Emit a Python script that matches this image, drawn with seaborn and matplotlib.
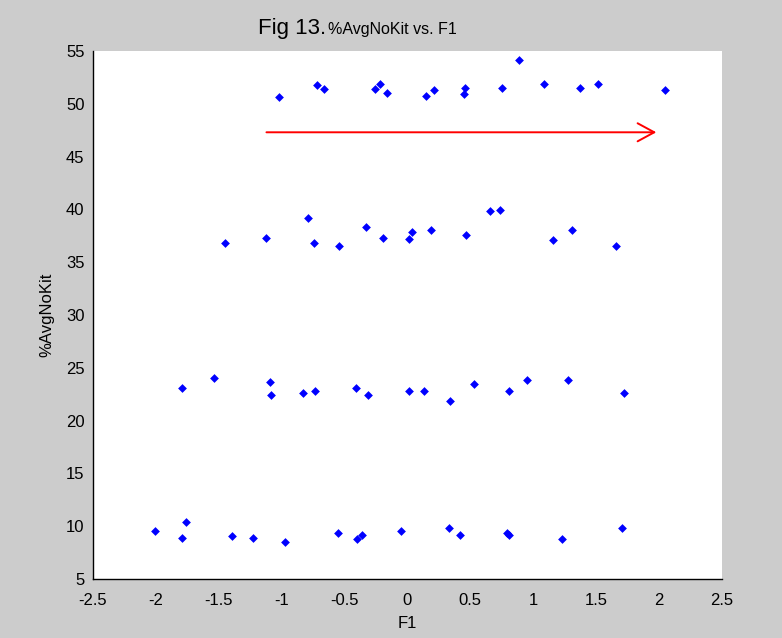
import matplotlib
matplotlib.use("Agg")
import matplotlib.pyplot as plt
import seaborn as sns
import pandas as pd

# F1 scores and %AvgNoKit, one list per band
f1_top = [-1.02, -0.72, -0.66, -0.26, -0.22, -0.16, 0.15, 0.21, 0.45, 0.46,
          0.75, 0.89, 1.09, 1.37, 1.52, 2.05]
kit_top = [50.6, 51.8, 51.4, 51.4, 51.9, 51.0, 50.7, 51.3, 50.9, 51.5,
           51.5, 54.1, 51.9, 51.5, 51.9, 51.3]

f1_upper = [-1.45, -1.12, -0.79, -0.74, -0.54, -0.33, -0.19, 0.01, 0.04,
            0.19, 0.47, 0.66, 0.74, 1.16, 1.31, 1.66]
kit_upper = [36.8, 37.3, 39.2, 36.8, 36.5, 38.3, 37.3, 37.2, 37.9,
             38.0, 37.6, 39.8, 39.9, 37.1, 38.0, 36.5]

f1_lower = [-1.79, -1.54, -1.09, -1.08, -0.83, -0.73, -0.41, -0.31, 0.01,
            0.13, 0.34, 0.53, 0.81, 0.95, 1.28, 1.72]
kit_lower = [23.1, 24.0, 23.7, 22.4, 22.6, 22.8, 23.1, 22.4, 22.8,
             22.8, 21.9, 23.5, 22.8, 23.8, 23.8, 22.6]

f1_bottom = [-2.01, -1.79, -1.76, -1.39, -1.23, -0.97, -0.55, -0.40, -0.36,
             -0.05, 0.33, 0.42, 0.79, 0.81, 1.23, 1.71]
kit_bottom = [9.5, 8.9, 10.4, 9.1, 8.9, 8.5, 9.4, 8.8, 9.2,
              9.5, 9.8, 9.2, 9.4, 9.2, 8.8, 9.8]

arrow_start = (-1.12, 47.3)
arrow_end = (1.98, 47.3)

x_ticks = [-2.5, -2, -1.5, -1, -0.5, 0, 0.5, 1, 1.5, 2, 2.5]
y_ticks = [5, 10, 15, 20, 25, 30, 35, 40, 45, 50, 55]

df = pd.DataFrame({
    "F1": f1_top + f1_upper + f1_lower + f1_bottom,
    "AvgNoKit": kit_top + kit_upper + kit_lower + kit_bottom,
})

sns.set_style("white")
plt.rcParams["font.family"] = ["Liberation Sans Narrow", "Liberation Sans", "DejaVu Sans"]
plt.rcParams["text.color"] = "black"
plt.rcParams["axes.labelcolor"] = "black"
plt.rcParams["xtick.color"] = "black"
plt.rcParams["ytick.color"] = "black"

fig = plt.figure(figsize=(7.82, 6.38), dpi=100, facecolor="#cccccc")
ax = fig.add_axes([0.1188, 0.0925, 0.8041, 0.8276])
ax.set_facecolor("white")

sns.scatterplot(data=df, x="F1", y="AvgNoKit", marker="D", color="#0000ff",
                s=20, linewidth=0, ax=ax)

ax.annotate("", xy=arrow_end, xytext=arrow_start,
            arrowprops=dict(arrowstyle="->,head_length=1.2,head_width=0.65",
                            color="red", lw=1.4, shrinkA=0, shrinkB=0))

ax.set_xlim(-2.5, 2.5)
ax.set_ylim(5, 55)
ax.set_xticks(x_ticks)
ax.set_yticks(y_ticks)
ax.set_xticklabels([f"{t:g}" for t in x_ticks])
ax.set_yticklabels([f"{t:g}" for t in y_ticks])
ax.tick_params(direction="in", length=5, width=1, colors="black",
               labelcolor="black", labelsize=12, pad=6)
ax.tick_params(axis="x", pad=10)

for side in ["top", "right"]:
    ax.spines[side].set_visible(False)
for side in ["left", "bottom"]:
    ax.spines[side].set_color("black")
    ax.spines[side].set_linewidth(1)

ax.set_xlabel("F1", fontsize=12, labelpad=6, color="black")
ax.set_ylabel("%AvgNoKit", fontsize=12, labelpad=8, color="black")

fig.text(0.417, 0.956, "Fig 13.", fontsize=16, ha="right", va="center")
fig.text(0.420, 0.953, "%AvgNoKit vs. F1", fontsize=11.5, ha="left", va="center")

fig.savefig("out.png", dpi=100, facecolor=fig.get_facecolor())
